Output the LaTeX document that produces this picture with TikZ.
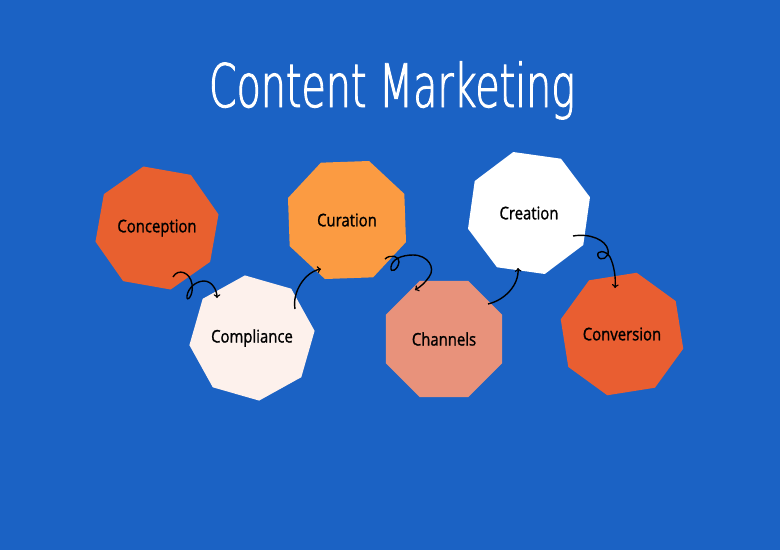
\documentclass[tikz,border=0pt]{standalone}
\usepackage{fontspec}
\setmainfont{Open Sans}[FakeStretch=0.85,FakeBold=1.2]
\newfontfamily\titlefont{DejaVu Sans ExtraLight}[FakeStretch=0.66,FakeBold=1.5]
\usetikzlibrary{shapes.geometric}
\definecolor{bgblue}{HTML}{1B62C4}
\definecolor{conccol}{HTML}{E8602F}
\definecolor{curacol}{HTML}{FB9B42}
\definecolor{compcol}{HTML}{FDF1EC}
\definecolor{chancol}{HTML}{E8927B}
\definecolor{convcol}{HTML}{E95E31}
\tikzset{
 octa/.style={regular polygon,regular polygon sides=8,minimum size=126pt,inner sep=0pt,
  font=\fontsize{17.5}{20}\selectfont,text=black},
 flow/.style={->,line width=1.4pt,black}
}
\begin{document}
\begin{tikzpicture}[x=1pt,y=-1pt]
 \fill[bgblue](0,0) rectangle (780,550);
 \node[anchor=base,text=white,font=\titlefont\fontsize{60}{60}\selectfont] (title) at (392,107) {Content Marketing};
 \node[octa,fill=conccol,shape border rotate=-10] (conc) at (157,228) {Conception};
 \node[octa,fill=compcol,shape border rotate=-16] (comp) at (252,338) {Compliance};
 \node[octa,fill=curacol,shape border rotate=2] (cura) at (347,220) {Curation};
 \node[octa,fill=chancol,shape border rotate=0] (chan) at (444,339) {Channels};
 \node[octa,fill=white,shape border rotate=-8] (crea) at (529,213) {Creation};
 \node[octa,fill=convcol,shape border rotate=9] (conv) at (622,334) {Conversion};
 \draw[flow]([shift={(16,49)}]conc.center) .. controls (178,268) and (190,272) .. (192,284)
  .. controls (194,296) and (186,303) .. (187,296) .. controls (188,288) and (196,281) .. (204,281)
  .. controls (212,281) and (217,290) .. ([shift={(-35,-40)}]comp.center);
 \draw[flow]([shift={(43,-29)}]comp.center) .. controls (292,292) and (305,272) .. ([shift={(-26,49)}]cura.center);
 \draw[flow]([shift={(38,39)}]cura.center) .. controls (390,254) and (400,256) .. (399,262)
  .. controls (398,270) and (390,274) .. (391,267) .. controls (392,259) and (402,255) .. (413,255)
  .. controls (428,255) and (436,268) .. (429,277) .. controls (425,283) and (420,287) .. ([shift={(-29,-49)}]chan.center);
 \draw[flow]([shift={(44,-35)}]chan.center) .. controls (505,300) and (519,285) .. ([shift={(-11,55)}]crea.center);
 \draw[flow]([shift={(44,23)}]crea.center) .. controls (590,233) and (606,240) .. (608,250)
  .. controls (610,258) and (600,262) .. (598,256) .. controls (596,250) and (606,250) .. (610,257)
  .. controls (614,265) and (616,278) .. ([shift={(-7,-46)}]conv.center);
\end{tikzpicture}
\end{document}
